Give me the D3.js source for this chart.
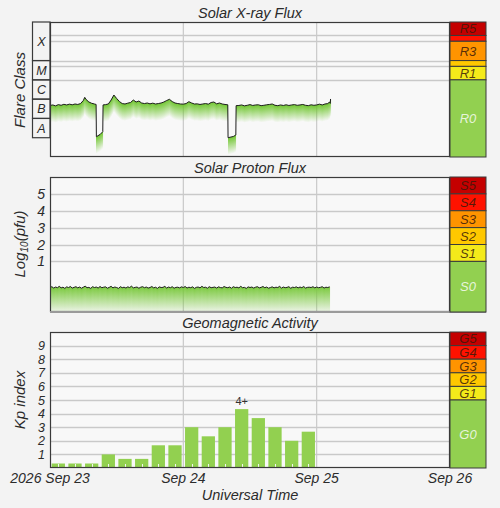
<!DOCTYPE html>
<html><head><meta charset="utf-8">
<script src="https://cdn.jsdelivr.net/npm/d3@7"></script>
<style>
body{margin:0;background:#f3f3f3;}
svg{display:block;font-family:"Liberation Sans",Arial,sans-serif;}
</style></head>
<body><svg id="c" width="500" height="508"></svg>
<script>
// ---------------- data ----------------
const dayLabels = ["2026 Sep 23","Sep 24","Sep 25","Sep 26"];
const panelTitles = ["Solar X-ray Flux","Solar Proton Flux","Geomagnetic Activity"];

// GOES X-ray flux (W/m^2), hours since 2026-09-23 00:00 UTC
const xrayHours = [0,0.5,1,1.5,2,2.5,3,3.5,4,4.5,5,5.5,6,6.25,6.5,7,7.5,8,8.3,8.35,9,9.5,9.55,10,10.5,11,11.5,12,12.5,13,13.5,14,14.5,15,15.5,16,16.5,17,17.5,18,18.5,19,19.5,20,20.5,21,21.5,22,22.5,23,23.5,24,24.5,25,25.5,26,26.5,27,27.5,28,28.5,29,29.5,30,30.5,31,31.5,32,32.05,33,33.45,33.5,34,34.5,35,35.5,36,36.5,37,37.5,38,38.5,39,39.5,40,40.5,41,41.5,42,42.5,43,43.5,44,44.5,45,45.5,46,46.5,47,47.5,48,48.5,49,49.5,50,50.3,50.45,50.5];
const xrayFlux = [4.7e-7,5.0e-7,4.5e-7,5.2e-7,4.8e-7,5.4e-7,5.0e-7,5.5e-7,5.1e-7,5.6e-7,5.3e-7,5.9e-7,8.5e-7,1.24e-6,9.6e-7,7.1e-7,6.1e-7,5.6e-7,5.3e-7,1.13e-8,1.47e-8,2.05e-8,5.0e-7,5.2e-7,5.6e-7,9.0e-7,1.64e-6,1.08e-6,7.5e-7,5.9e-7,5.6e-7,6.2e-7,6.7e-7,9.0e-7,7.1e-7,8.0e-7,6.3e-7,5.9e-7,6.3e-7,5.7e-7,6.2e-7,5.6e-7,5.9e-7,6.3e-7,7.1e-7,8.5e-7,9.8e-7,7.5e-7,6.3e-7,5.9e-7,5.6e-7,5.5e-7,5.9e-7,7.4e-7,6.3e-7,5.6e-7,5.7e-7,5.3e-7,5.6e-7,5.9e-7,5.5e-7,6.7e-7,7.1e-7,5.7e-7,6.3e-7,5.6e-7,5.3e-7,5.1e-7,1.0e-8,1.16e-8,1.38e-8,4.6e-7,4.7e-7,5.0e-7,4.5e-7,4.8e-7,5.2e-7,4.7e-7,5.0e-7,5.1e-7,4.6e-7,4.8e-7,5.1e-7,5.3e-7,5.6e-7,4.8e-7,4.6e-7,5.0e-7,4.7e-7,5.1e-7,4.7e-7,5.0e-7,5.2e-7,4.8e-7,5.0e-7,5.3e-7,4.8e-7,4.6e-7,5.1e-7,4.8e-7,5.0e-7,5.5e-7,5.0e-7,5.6e-7,5.9e-7,7.1e-7,6.0e-7,1.02e-6];

// Proton flux log10(pfu), one value every 20 minutes from 2026-09-23 00:00 UTC
const protonStepMin = 20;
const protonLog = [-0.55,-0.5,-0.58,-0.52,-0.56,-0.48,-0.57,-0.53,-0.6,-0.51,-0.55,-0.49,-0.58,-0.54,-0.5,-0.57,-0.52,-0.59,-0.53,-0.47,-0.56,-0.54,-0.6,-0.5,
-0.55,-0.52,-0.58,-0.49,-0.56,-0.53,-0.51,-0.59,-0.54,-0.48,-0.57,-0.52,-0.55,-0.6,-0.5,-0.56,-0.53,-0.58,-0.51,-0.55,-0.47,-0.57,-0.54,-0.52,
-0.59,-0.53,-0.5,-0.56,-0.52,-0.58,-0.55,-0.49,-0.57,-0.53,-0.6,-0.51,-0.55,-0.54,-0.48,-0.58,-0.52,-0.56,-0.5,-0.59,-0.54,-0.53,-0.57,-0.51,
-0.55,-0.49,-0.58,-0.53,-0.56,-0.51,-0.6,-0.54,-0.52,-0.57,-0.48,-0.55,-0.53,-0.59,-0.5,-0.56,-0.54,-0.52,-0.58,-0.51,-0.55,-0.57,-0.49,-0.54,
-0.56,-0.52,-0.59,-0.5,-0.55,-0.53,-0.57,-0.48,-0.56,-0.54,-0.6,-0.51,-0.55,-0.52,-0.58,-0.53,-0.5,-0.57,-0.54,-0.49,-0.56,-0.52,-0.59,-0.55,
-0.51,-0.57,-0.53,-0.55,-0.48,-0.58,-0.52,-0.56,-0.54,-0.5,-0.59,-0.53,-0.55,-0.51,-0.57,-0.52,-0.56,-0.49,-0.58,-0.54,-0.53,-0.55,-0.5,-0.57,
-0.52,-0.56,-0.54,-0.5,-0.58,-0.53,-0.55,-0.51];

// Planetary Kp, 3-hour intervals from 2026-09-23 00:00 UTC
const kpValues = [0.33,0.33,0.33,1,0.67,0.67,1.67,1.67,3,2.33,3,4.33,3.67,3,2,2.67];
const kpMaxLabel = "4+";

// Flare classes (lower bound flux)
const flareClasses = ["X","M","C","B","A"];
const flareLower = [1e-4,1e-5,1e-6,1e-7,1e-8];
// NOAA scales
const scaleColors = ["#c40000","#ff1200","#ff9400","#ffc800","#f4ea1a","#92d050"];
const rLabels = ["R5","R4","R3","R2","R1","R0"];
const rBounds = [1e-2,2e-3,1e-3,1e-4,5e-5,1e-5,1e-9];
const rShow = [true,false,true,false,true,true];
const sLabels = ["S5","S4","S3","S2","S1","S0"];
const sBounds = [6,5,4,3,2,1,-2];
const gLabels = ["G5","G4","G3","G2","G1","G0"];
const gBounds = [10,9,8,7,6,5,0];
const protonTicks = [1,2,3,4,5];
const kpTicks = [1,2,3,4,5,6,7,8,9];

// ---------------- layout ----------------
const svg = d3.select("#c");
const L = 50, R = 450, SW = 36;
const panels = [{top:22,h:135},{top:177,h:135},{top:332,h:136}];
const t0 = Date.UTC(2026,8,23);
const x = d3.scaleUtc().domain([new Date(t0), new Date(Date.UTC(2026,8,26))]).range([L,R]);
const hr = h => new Date(t0 + h*3.6e6);
const dayTicks = d3.utcDay.range(new Date(t0), new Date(Date.UTC(2026,8,26,1)));

const yX = d3.scaleLog().domain([1e-9,1e-2]).range([panels[0].top+panels[0].h, panels[0].top]);
const yP = d3.scaleLinear().domain([-2,6]).range([panels[1].top+panels[1].h, panels[1].top]);
const yK = d3.scaleLinear().domain([0,10]).range([panels[2].top+panels[2].h, panels[2].top]);

const TXT = "#2b2b2b", GRID = "#c9c9c9", BORDER = "#3a3a3a";

const defs = svg.append("defs");
function grad(id, c, o0, o1){
  const g = defs.append("linearGradient").attr("id",id).attr("x1",0).attr("y1",0).attr("x2",0).attr("y2",1);
  g.append("stop").attr("offset","0%").attr("stop-color",c).attr("stop-opacity",o0);
  g.append("stop").attr("offset","100%").attr("stop-color",c).attr("stop-opacity",o1);
}
grad("xfade","#6cc42a",0.95,0);
grad("pfade","#78c83a",0.95,0.08);

panels.forEach((p,i)=>{
  svg.append("rect").attr("x",L).attr("y",p.top).attr("width",R-L).attr("height",p.h).attr("fill","#f8f8f8");
  defs.append("clipPath").attr("id","clip"+i).append("rect").attr("x",L).attr("y",p.top).attr("width",R-L).attr("height",p.h);
  svg.append("text").attr("x",250).attr("y",p.top-4.5).attr("text-anchor","middle")
    .attr("font-size",14.5).attr("font-style","italic").attr("fill",TXT).text(panelTitles[i]);
  svg.append("g").selectAll("line").data(dayTicks.slice(1,-1)).join("line")
    .attr("x1",d=>x(d)).attr("x2",d=>x(d)).attr("y1",p.top).attr("y2",p.top+p.h)
    .attr("stroke",GRID).attr("stroke-width",1.2);
});

function hgrid(vals, y){
  svg.append("g").selectAll("line").data(vals).join("line")
    .attr("x1",L).attr("x2",R).attr("y1",d=>Math.round(y(d))+0.5).attr("y2",d=>Math.round(y(d))+0.5)
    .attr("stroke",GRID).attr("stroke-width",1.3);
}
hgrid(rBounds.slice(1,-1), yX);
hgrid(protonTicks, yP);
hgrid(kpTicks, yK);

function fillColumns(hours, yPix, clipId, fadeFn, gradId){
  const g = svg.append("g").attr("clip-path",`url(#${clipId})`);
  const bis = d3.bisector(d=>d).right;
  const x0 = Math.floor(x(hr(hours[0]))), x1 = Math.ceil(x(hr(hours[hours.length-1])));
  const cols = [];
  for(let px=x0; px<x1; px++){
    const h = (x.invert(px+0.5) - t0)/3.6e6;
    let i = bis(hours,h); i = Math.max(1, Math.min(hours.length-1, i));
    const a = hours[i-1], b = hours[i];
    const t = Math.max(0, Math.min(1,(h-a)/(b-a)));
    cols.push({px, y: yPix[i-1] + t*(yPix[i]-yPix[i-1])});
  }
  g.selectAll("rect").data(cols).join("rect")
    .attr("x",d=>d.px).attr("y",d=>d.y).attr("width",1.05).attr("height",d=>fadeFn(d.y))
    .attr("fill",`url(#${gradId})`);
}

// ---- X-ray
const xrayPix = xrayFlux.map(v=>yX(v));
fillColumns(xrayHours, xrayPix, "clip0", ()=>17, "xfade");
svg.append("path").attr("clip-path","url(#clip0)")
  .datum(xrayHours.map((h,i)=>[h,xrayFlux[i]]))
  .attr("d", d3.line().x(d=>x(hr(d[0]))).y(d=>yX(d[1])))
  .attr("fill","none").attr("stroke","#1e1e1e").attr("stroke-width",1).attr("stroke-linejoin","round");

// ---- Proton
const protonHours = protonLog.map((v,i)=>i*protonStepMin/60);
const protonPix = protonLog.map(v=>yP(v));
fillColumns(protonHours, protonPix, "clip1", y=>yP(-2)-y, "pfade");
svg.append("path").attr("clip-path","url(#clip1)")
  .datum(protonHours.map((h,i)=>[h,protonLog[i]]))
  .attr("d", d3.line().x(d=>x(hr(d[0]))).y(d=>yP(d[1])))
  .attr("fill","none").attr("stroke","#1e1e1e").attr("stroke-width",1);

// ---- Kp bars
const kpG = svg.append("g");
kpValues.forEach((v,i)=>{
  const xa = x(hr(i*3)), xb = x(hr(i*3+3));
  kpG.append("rect").attr("x",xa+1.7).attr("y",yK(v)).attr("width",xb-xa-3.4).attr("height",yK(0)-yK(v)).attr("fill","#92d050");
  const cx = Math.round((xa+xb)/2)+0.5;
  kpG.append("line").attr("x1",cx).attr("x2",cx).attr("y1",yK(0)).attr("y2",yK(0)-4).attr("stroke","#f4f4f4").attr("stroke-width",1);
});
const kmax = d3.maxIndex(kpValues);
svg.append("text").attr("x",(x(hr(kmax*3))+x(hr(kmax*3+3)))/2).attr("y",yK(kpValues[kmax])-4)
  .attr("text-anchor","middle").attr("font-size",11).attr("fill","#333").text(kpMaxLabel);

// ---- panel borders
panels.forEach((p,i)=>{
  svg.append("rect").attr("x",L+0.5).attr("y",p.top+0.5).attr("width",R-L-1).attr("height",p.h-1)
    .attr("fill","none").attr("stroke",BORDER).attr("stroke-width",1.2);
});
svg.append("line").attr("x1",L).attr("x2",R+SW).attr("y1",panels[1].top+panels[1].h).attr("y2",panels[1].top+panels[1].h)
  .attr("stroke","#9a9a9a").attr("stroke-width",2);

// ---- right-side scale boxes
function scaleBox(labels, bounds, y, show){
  const g = svg.append("g");
  labels.forEach((lab,i)=>{
    const ya = y(bounds[i]), yb = y(bounds[i+1]);
    g.append("rect").attr("x",R).attr("y",ya).attr("width",SW).attr("height",yb-ya)
      .attr("fill",scaleColors[i]).attr("stroke",BORDER).attr("stroke-width",1);
    if(!show || show[i]){
      g.append("text").attr("x",R+SW/2).attr("y",(ya+yb)/2).attr("dy","0.36em").attr("text-anchor","middle")
        .attr("font-size",13).attr("font-style","italic")
        .attr("fill", i===labels.length-1 ? "#eef7e4" : "#3a1a0a").attr("fill-opacity", i===labels.length-1?0.95:0.85)
        .text(lab);
    }
  });
}
scaleBox(rLabels, rBounds, yX, rShow);
scaleBox(sLabels, sBounds, yP);
scaleBox(gLabels, gBounds, yK);

// ---- flare class box
const fb = svg.append("g");
flareClasses.forEach((c,i)=>{
  const ya = yX(i===0?1e-2:flareLower[i-1]), yb = yX(flareLower[i]);
  fb.append("rect").attr("x",32.5).attr("y",ya).attr("width",L-32.5).attr("height",yb-ya)
    .attr("fill","none").attr("stroke",BORDER).attr("stroke-width",1.2);
  fb.append("text").attr("x",41.5).attr("y",(ya+yb)/2).attr("dy","0.36em").attr("text-anchor","middle")
    .attr("font-size",12.5).attr("font-style","italic").attr("fill",TXT).text(c);
});

// ---- y tick labels
function yLabels(vals, y, fs){
  svg.append("g").selectAll("text").data(vals).join("text")
    .attr("x",45).attr("y",d=>y(d)).attr("dy","0.36em").attr("text-anchor","end")
    .attr("font-size",fs).attr("font-style","italic").attr("fill",TXT).text(d=>d);
}
yLabels(protonTicks, yP, 14);
yLabels(kpTicks, yK, 12.5);

// ---- y titles
function yTitle(cy, build){
  const t = svg.append("text").attr("transform",`translate(25,${cy}) rotate(-90)`).attr("text-anchor","middle")
    .attr("font-size",15).attr("font-style","italic").attr("fill",TXT);
  build(t);
}
yTitle(90, t=>t.text("Flare Class"));
yTitle(244, t=>{
  t.append("tspan").text("Log");
  t.append("tspan").attr("font-size",10).attr("dy",3).text("10");
  t.append("tspan").attr("dy",-3).text("(pfu)");
});
yTitle(400, t=>t.text("Kp index"));

// ---- x axis labels
svg.append("g").selectAll("text").data(dayTicks).join("text")
  .attr("x",d=>x(d)).attr("y",483).attr("text-anchor","middle")
  .attr("font-size",14).attr("font-style","italic").attr("fill",TXT).text((d,i)=>dayLabels[i]);
svg.append("text").attr("x",250).attr("y",500).attr("text-anchor","middle")
  .attr("font-size",14.5).attr("font-style","italic").attr("fill",TXT).text("Universal Time");
</script>
</body></html>
